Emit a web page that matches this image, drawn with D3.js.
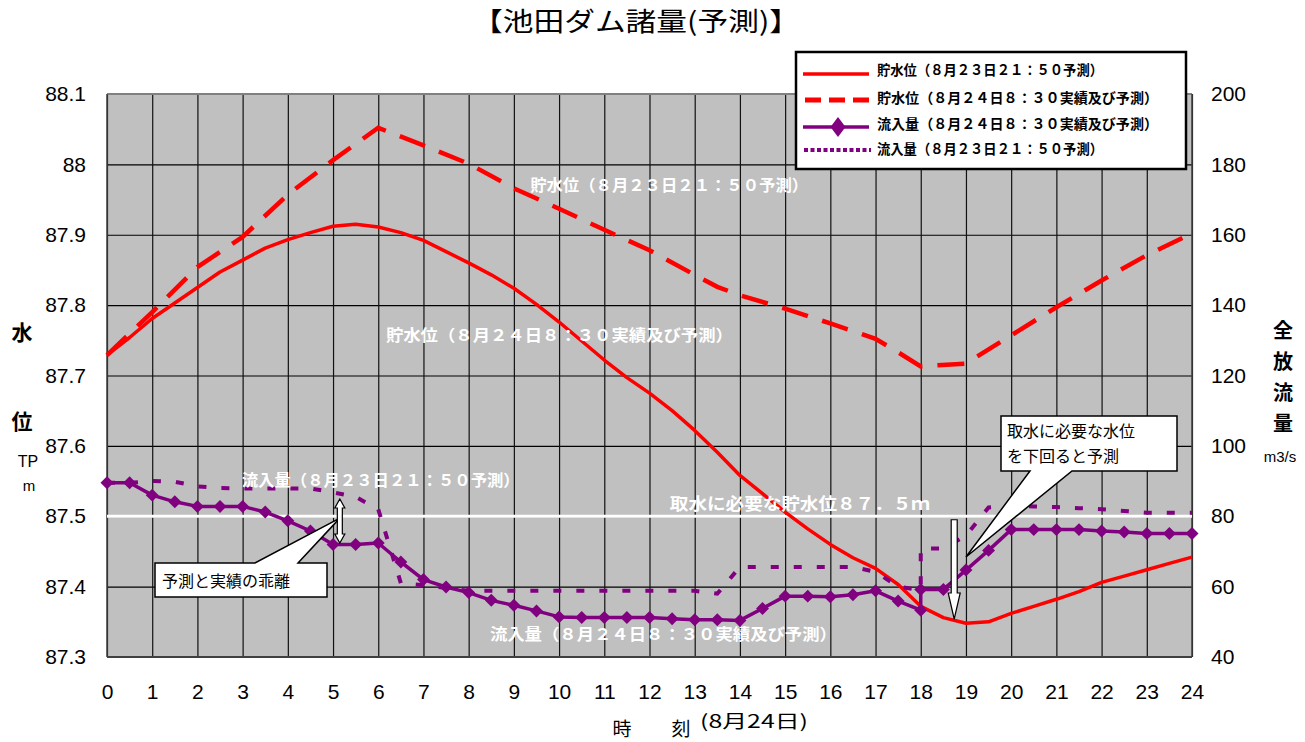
<!DOCTYPE html>
<html><head><meta charset="utf-8">
<script src="https://cdn.jsdelivr.net/npm/d3@7"></script>
<style>body{margin:0;background:#fff;} svg{display:block}</style>
</head><body><svg id="c" width="1305" height="742"></svg>
<script>
// ---------------- data ----------------
const hourTicks = [0,1,2,3,4,5,6,7,8,9,10,11,12,13,14,15,16,17,18,19,20,21,22,23,24];
const leftTicks = [87.3,87.4,87.5,87.6,87.7,87.8,87.9,88.0,88.1];
const leftTickLabels = ["87.3","87.4","87.5","87.6","87.7","87.8","87.9","88","88.1"];
const rightTicks = [40,60,80,100,120,140,160,180,200];

// 貯水位（8月23日21:50予測） solid red
const tLevelForecast = [0,0.5,1,1.5,2,2.5,3,3.5,4,4.5,5,5.5,6,6.5,7,7.5,8,8.5,9,9.5,10,10.5,11,11.5,12,12.5,13,13.5,14,14.5,15,15.5,16,16.5,17,17.5,18,18.5,19,19.5,20,20.5,21,21.5,22,22.5,23,23.5,24];
const levelForecast0823 = [87.729,87.754,87.781,87.803,87.825,87.847,87.864,87.881,87.893,87.903,87.912,87.915,87.911,87.903,87.892,87.876,87.860,87.843,87.824,87.801,87.776,87.749,87.722,87.697,87.675,87.650,87.622,87.591,87.558,87.532,87.506,87.482,87.460,87.441,87.426,87.403,87.372,87.356,87.348,87.350,87.362,87.372,87.382,87.393,87.406,87.415,87.424,87.433,87.442];

// 貯水位（8月24日8:30実績及び予測） dashed red
const tLevelActual = [0,1,2,3,4,5,6,7,8,9,10,11,12,13,13.5,14,15,16,17,17.5,18,19,20,21,22,23,24];
const levelActual0824 = [87.729,87.790,87.854,87.897,87.957,88.006,88.052,88.027,88.001,87.966,87.937,87.907,87.878,87.843,87.826,87.814,87.795,87.774,87.752,87.733,87.713,87.717,87.757,87.797,87.835,87.871,87.902];

// 流入量（8月24日8:30実績及び予測） purple with diamonds (right axis)
const tInflowActual = [0,0.5,1,1.5,2,2.5,3,3.5,4,4.5,5,5.5,6,6.5,7,7.5,8,8.5,9,9.5,10,10.5,11,11.5,12,12.5,13,13.5,14,14.5,15,15.5,16,16.5,17,17.5,18,18,18.5,19,19.5,20,20.5,21,21.5,22,22.5,23,23.5,24];
const inflowActual0824 = [89.5,89.5,86.0,84.1,82.8,82.8,82.8,81.2,78.7,75.8,72.0,72.0,72.4,67.0,62.0,59.9,58.3,56.1,54.7,53.1,51.4,51.2,51.2,51.2,51.2,50.9,50.6,50.6,50.4,53.8,57.3,57.3,57.1,57.7,58.8,55.9,53.3,59.2,59.2,64.7,70.3,76.2,76.2,76.2,76.2,75.8,75.5,75.1,75.1,75.1];

// 流入量（8月23日21:50予測） purple dotted (right axis)
const tInflowForecast = [0,0.5,1,1.5,2,2.5,3,3.5,4,4.5,5,5.5,6,6.5,7,7.5,8,8.5,9,9.5,10,10.5,11,11.5,12,12.5,13,13.5,14,14.5,15,15.5,16,16.5,17,17.5,18,18,18.5,19,19.5,20,20.5,21,21.5,22,22.5,23,23.5,24];
const inflowForecast0823 = [89.5,89.5,90.0,89.8,88.5,88.0,87.9,87.9,87.9,87.9,86.8,85.5,82.0,61.0,60.4,59.6,58.8,58.8,58.8,58.8,58.8,58.8,58.8,58.8,58.8,58.8,58.8,58.0,65.6,65.6,65.6,65.6,65.6,65.6,64.2,60.0,59.0,70.8,70.8,74.5,82.5,83.0,82.8,82.6,82.3,82.0,81.5,81.0,81.0,81.0];

const intakeLevel = 87.5;

const seriesNames = [
  "貯水位（８月２３日２１：５０予測）",
  "貯水位（８月２４日８：３０実績及び予測）",
  "流入量（８月２４日８：３０実績及び予測）",
  "流入量（８月２３日２１：５０予測）"
];

// ---------------- drawing ----------------
const svg = d3.select("#c");
const JP = "'Noto Sans CJK JP','Noto Sans',sans-serif";
const NUM = "'Liberation Sans',Arial,sans-serif";
const P = {l:107, r:1192, t:94, b:657};
const x = d3.scaleLinear().domain([0,24]).range([P.l,P.r]);
const yL = d3.scaleLinear().domain([87.3,88.1]).range([P.b,P.t]);
const yR = d3.scaleLinear().domain([40,200]).range([P.b,P.t]);
const W = P.r-P.l, H = P.b-P.t;

// background
svg.append("rect").attr("x",P.l).attr("y",P.t).attr("width",W).attr("height",H).attr("fill","#c0c0c0");

// grid
const gy = svg.append("g").attr("transform",`translate(${P.l},0)`)
  .call(d3.axisLeft(yL).tickValues(leftTicks).tickSize(-W).tickFormat(""));
gy.select(".domain").remove();
gy.selectAll("line").attr("stroke","#000").attr("stroke-width",1.2);
const gx = svg.append("g").attr("transform",`translate(0,${P.b})`)
  .call(d3.axisBottom(x).tickValues(hourTicks).tickSize(-H).tickFormat(""));
gx.select(".domain").remove();
gx.selectAll("line").attr("stroke","#111").attr("stroke-width",1.2);

// border
svg.append("line").attr("x1",P.l).attr("x2",P.r).attr("y1",P.t).attr("y2",P.t).attr("stroke","#808080").attr("stroke-width",2);
svg.append("line").attr("x1",P.l).attr("x2",P.r).attr("y1",P.b).attr("y2",P.b).attr("stroke","#404040").attr("stroke-width",2);
svg.append("line").attr("x1",P.l).attr("x2",P.l).attr("y1",P.t).attr("y2",P.b).attr("stroke","#404040").attr("stroke-width",1.5);
svg.append("line").attr("x1",P.r).attr("x2",P.r).attr("y1",P.t).attr("y2",P.b).attr("stroke","#404040").attr("stroke-width",1.5);

// axes labels
const aL = svg.append("g").attr("transform",`translate(${P.l},0)`)
  .call(d3.axisLeft(yL).tickValues(leftTicks).tickSize(0).tickPadding(21).tickFormat((d,i)=>leftTickLabels[i]));
aL.select(".domain").remove();
aL.selectAll("text").attr("font-family",NUM).attr("font-size",21).attr("fill","#000");
const aR = svg.append("g").attr("transform",`translate(${P.r},0)`)
  .call(d3.axisRight(yR).tickValues(rightTicks).tickSize(0).tickPadding(19).tickFormat(d3.format("d")));
aR.select(".domain").remove();
aR.selectAll("text").attr("font-family",NUM).attr("font-size",21).attr("fill","#000");
const aB = svg.append("g").attr("transform",`translate(0,${P.b})`)
  .call(d3.axisBottom(x).tickValues(hourTicks).tickSize(0).tickPadding(27).tickFormat(d3.format("d")));
aB.select(".domain").remove();
aB.selectAll("text").attr("font-family",NUM).attr("font-size",21).attr("fill","#000");

// required level line
svg.append("line").attr("x1",x(0)).attr("x2",x(24)).attr("y1",yL(intakeLevel)).attr("y2",yL(intakeLevel))
  .attr("stroke","#fff").attr("stroke-width",3);

// series
const zip = (ts,vs)=>ts.map((t,i)=>[t,vs[i]]);
const lineL = d3.line().x(d=>x(d[0])).y(d=>yL(d[1]));
const lineR = d3.line().x(d=>x(d[0])).y(d=>yR(d[1]));

svg.append("path").datum(zip(tLevelForecast,levelForecast0823)).attr("d",lineL)
  .attr("fill","none").attr("stroke","#ff0000").attr("stroke-width",3.5).attr("stroke-linejoin","round");
svg.append("path").datum(zip(tLevelActual,levelActual0824)).attr("d",lineL)
  .attr("fill","none").attr("stroke","#ff0000").attr("stroke-width",4.5).attr("stroke-dasharray","27,15");
svg.append("path").datum(zip(tInflowForecast,inflowForecast0823)).attr("d",lineR)
  .attr("fill","none").attr("stroke","#800080").attr("stroke-width",4).attr("stroke-dasharray","8,15");
svg.append("path").datum(zip(tInflowActual,inflowActual0824)).attr("d",lineR)
  .attr("fill","none").attr("stroke","#800080").attr("stroke-width",3.5).attr("stroke-linejoin","round");

const diamond = {draw(ctx,size){const r=Math.sqrt(size/2);ctx.moveTo(0,-r);ctx.lineTo(r,0);ctx.lineTo(0,r);ctx.lineTo(-r,0);ctx.closePath();}};
svg.append("g").selectAll("path").data(zip(tInflowActual,inflowActual0824)).join("path")
  .attr("d",d3.symbol().type(diamond).size(84))
  .attr("transform",d=>`translate(${x(d[0])},${yR(d[1])})`)
  .attr("fill","#800080");

// in-plot white labels
function wlabel(txt,x0,yb,len,fs){
  svg.append("text").attr("x",x0).attr("y",yb).text(txt)
    .attr("font-family",JP).attr("font-weight","bold").attr("font-size",fs||16)
    .attr("fill","#fff").attr("textLength",len).attr("lengthAdjust","spacingAndGlyphs");
}
wlabel(seriesNames[0], x(9.36), yL(87.97)+6, 278);
wlabel(seriesNames[1], x(6.17), yL(87.758)+6, 347);
wlabel("流入量（８月２３日２１：５０予測）", x(2.98), yR(90.3)+6, 278);
wlabel("流入量（８月２４日８：３０実績及び予測）", x(8.47), yR(46.6)+6, 347);
wlabel("取水に必要な貯水位８７．５ｍ", x(12.45), yL(87.518)+6, 260, 17);

// callout 1: 予測と実績の乖離
{
  const bx0=155, by0=563, bx1=327, by1=597;
  const tipX = x(5.15), tipY = yR(84.3)+17;
  const p = `M${bx0},${by0}L255,${by0}L${tipX},${tipY}L298,${by0}L${bx1},${by0}L${bx1},${by1}L${bx0},${by1}Z`;
  svg.append("path").attr("d",p).attr("fill","#fff").attr("stroke","#000").attr("stroke-width",1.5);
  svg.append("text").attr("x",bx0+7).attr("y",by0+24).text("予測と実績の乖離")
    .attr("font-family",JP).attr("font-size",16).attr("fill","#000");
}
// double arrow
{
  const ax = x(5.15), y0 = yR(84.9), y1 = yR(72.4);
  const hw=5, sw=2.5, hh=9;
  const p = `M${ax},${y0}L${ax+hw},${y0+hh}L${ax+sw},${y0+hh}L${ax+sw},${y1-hh}L${ax+hw},${y1-hh}L${ax},${y1}L${ax-hw},${y1-hh}L${ax-sw},${y1-hh}L${ax-sw},${y0+hh}L${ax-hw},${y0+hh}Z`;
  svg.append("path").attr("d",p).attr("fill","#fff").attr("stroke","#000").attr("stroke-width",1.2);
}
// callout 2
{
  const bx0=1001, by0=416, bx1=1177, by1=471;
  const tipX = x(19.0), tipY = 557;
  const p = `M${bx0},${by0}L${bx1},${by0}L${bx1},${by1}L1072,${by1}L${tipX},${tipY}L1030,${by1}L${bx0},${by1}Z`;
  svg.append("path").attr("d",p).attr("fill","#fff").attr("stroke","#000").attr("stroke-width",1.5);
  svg.append("text").attr("x",bx0+6).attr("y",by0+21).text("取水に必要な水位")
    .attr("font-family",JP).attr("font-size",16).attr("fill","#000");
  svg.append("text").attr("x",bx0+6).attr("y",by0+46).text("を下回ると予測")
    .attr("font-family",JP).attr("font-size",16).attr("fill","#000");
}
// down arrow
{
  const ax = x(18.74), y0 = yL(87.495), y1 = yL(87.354);
  const hw=6, sw=3, hh=26;
  const p = `M${ax-sw},${y0}L${ax+sw},${y0}L${ax+sw},${y1-hh}L${ax+hw},${y1-hh}L${ax},${y1}L${ax-hw},${y1-hh}L${ax-sw},${y1-hh}Z`;
  svg.append("path").attr("d",p).attr("fill","#fff").attr("stroke","#000").attr("stroke-width",1.2);
}

// title
svg.append("text").attr("x",472).attr("y",31).text("【池田ダム諸量(予測)】")
  .attr("font-family",JP).attr("font-size",26).attr("fill","#000")
  .attr("textLength",328).attr("lengthAdjust","spacingAndGlyphs");

// axis titles
function t(txt,xx,yy,fs,bold,anchor){
  return svg.append("text").attr("x",xx).attr("y",yy).text(txt).attr("font-family",JP)
    .attr("font-size",fs).attr("font-weight",bold?"bold":"normal").attr("fill","#000")
    .attr("text-anchor",anchor||"middle");
}
t("水",22,340,21,true);
t("位",22,429,21,true);
t("TP",28,467,16,false).attr("font-family",NUM);
t("m",29,491,15,false).attr("font-family",NUM);
t("全",1283,338,20,true);
t("放",1283,369,20,true);
t("流",1283,400,20,true);
t("量",1283,431,20,true);
t("m3/s",1280,462,15,false).attr("font-family",NUM);
t("時",622,736,19,false);
t("刻",681,736,19,false);
t("(8月24日)",700,728,18,false,"start").attr("textLength",108).attr("lengthAdjust","spacingAndGlyphs");

// legend
{
  const lg = svg.append("g");
  lg.append("rect").attr("x",796).attr("y",52).attr("width",390).attr("height",117)
    .attr("fill","#fff").attr("stroke","#000").attr("stroke-width",2.5);
  const ys = [74,100,127,150];
  const ty = [75,103,129,154];
  const lens = [226,281,281,226];
  lg.append("line").attr("x1",803).attr("x2",869).attr("y1",ys[0]).attr("y2",ys[0]).attr("stroke","#ff0000").attr("stroke-width",3.5);
  lg.append("line").attr("x1",805).attr("x2",869).attr("y1",ys[1]).attr("y2",ys[1]).attr("stroke","#ff0000").attr("stroke-width",5).attr("stroke-dasharray","16,8");
  lg.append("line").attr("x1",803).attr("x2",869).attr("y1",ys[2]).attr("y2",ys[2]).attr("stroke","#800080").attr("stroke-width",3.5);
  lg.append("path").attr("d","M838,117L845.5,127L838,137L830.5,127Z").attr("fill","#800080");
  lg.append("line").attr("x1",804).attr("x2",871).attr("y1",ys[3]).attr("y2",ys[3]).attr("stroke","#800080").attr("stroke-width",4).attr("stroke-dasharray","4,2.5");
  seriesNames.forEach((s,i)=>{
    lg.append("text").attr("x",877).attr("y",ty[i]).text(s).attr("font-family",JP)
      .attr("font-weight","bold").attr("font-size",14).attr("fill","#000")
      .attr("textLength",lens[i]).attr("lengthAdjust","spacingAndGlyphs");
  });
}
</script></body></html>
